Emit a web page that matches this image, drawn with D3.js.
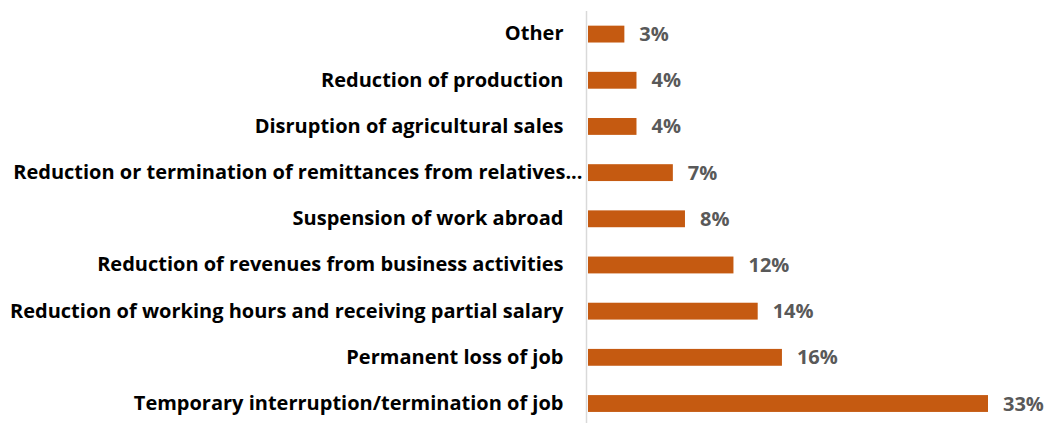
<!DOCTYPE html>
<html>
<head>
<meta charset="utf-8">
<script src="https://cdn.jsdelivr.net/npm/d3@7"></script>
<style>
  html, body { margin: 0; padding: 0; background: #fff; }
  svg { display: block; }
</style>
</head>
<body>
<svg id="chart" width="1048" height="423"></svg>
<script>
// Reasons for income loss, share of households (%)
const categories = [
  "Other",
  "Reduction of production",
  "Disruption of agricultural sales",
  "Reduction or termination of remittances from relatives...",
  "Suspension of work abroad",
  "Reduction of revenues from business activities",
  "Reduction of working hours and receiving partial salary",
  "Permanent loss of job",
  "Temporary interruption/termination of job"
];
const values = [3, 4, 4, 7, 8, 12, 14, 16, 33];
const valueLabels = ["3%", "4%", "4%", "7%", "8%", "12%", "14%", "16%", "33%"];

const svg = d3.select("#chart");
const width = 1048, height = 423;
const axisX = 586.5;
const barColor = "#C55A11";
const fontFamily = "'Open Sans', sans-serif";

// pick a label size so the last category spans 430px
const probe = svg.append("text")
  .attr("font-family", fontFamily).attr("font-weight", 700).attr("font-size", 20)
  .text(categories[categories.length - 1]);
const fontSize = 20 * 430 / probe.node().getComputedTextLength();
probe.remove();

const x = d3.scaleLinear().domain([0, 33]).range([axisX + 1.5, 988]);
const y = d3.scaleBand().domain(categories).range([11, 426.6]).paddingInner(0.635).paddingOuter(0.3175);

// bars
svg.append("g")
  .selectAll("rect")
  .data(values)
  .join("rect")
  .attr("x", x(0))
  .attr("y", (d, i) => y(categories[i]))
  .attr("width", d => x(d) - x(0))
  .attr("height", y.bandwidth())
  .attr("fill", barColor);

// category axis
const yAxis = d3.axisLeft(y).tickSize(0).tickPadding(23);
const gAxis = svg.append("g")
  .attr("transform", `translate(${axisX},0)`)
  .call(yAxis);
gAxis.select(".domain")
  .attr("d", `M0,11V${height}`)
  .attr("stroke", "#D9D9D9")
  .attr("stroke-width", 1.5);
gAxis.selectAll(".tick text")
  .attr("font-family", fontFamily)
  .attr("font-weight", 700)
  .attr("font-size", fontSize)
  .attr("fill", "#000");
// the truncated label runs closer to the axis line
gAxis.selectAll(".tick text")
  .filter(d => d.endsWith("..."))
  .attr("x", -4);

// value labels
svg.append("g")
  .selectAll("text")
  .data(values)
  .join("text")
  .attr("x", d => x(d) + 15)
  .attr("y", (d, i) => y(categories[i]) + y.bandwidth() / 2)
  .attr("dy", "0.35em")
  .attr("font-family", fontFamily)
  .attr("font-weight", 700)
  .attr("font-size", fontSize)
  .attr("fill", "#595959")
  .text((d, i) => valueLabels[i]);
</script>
</body>
</html>
